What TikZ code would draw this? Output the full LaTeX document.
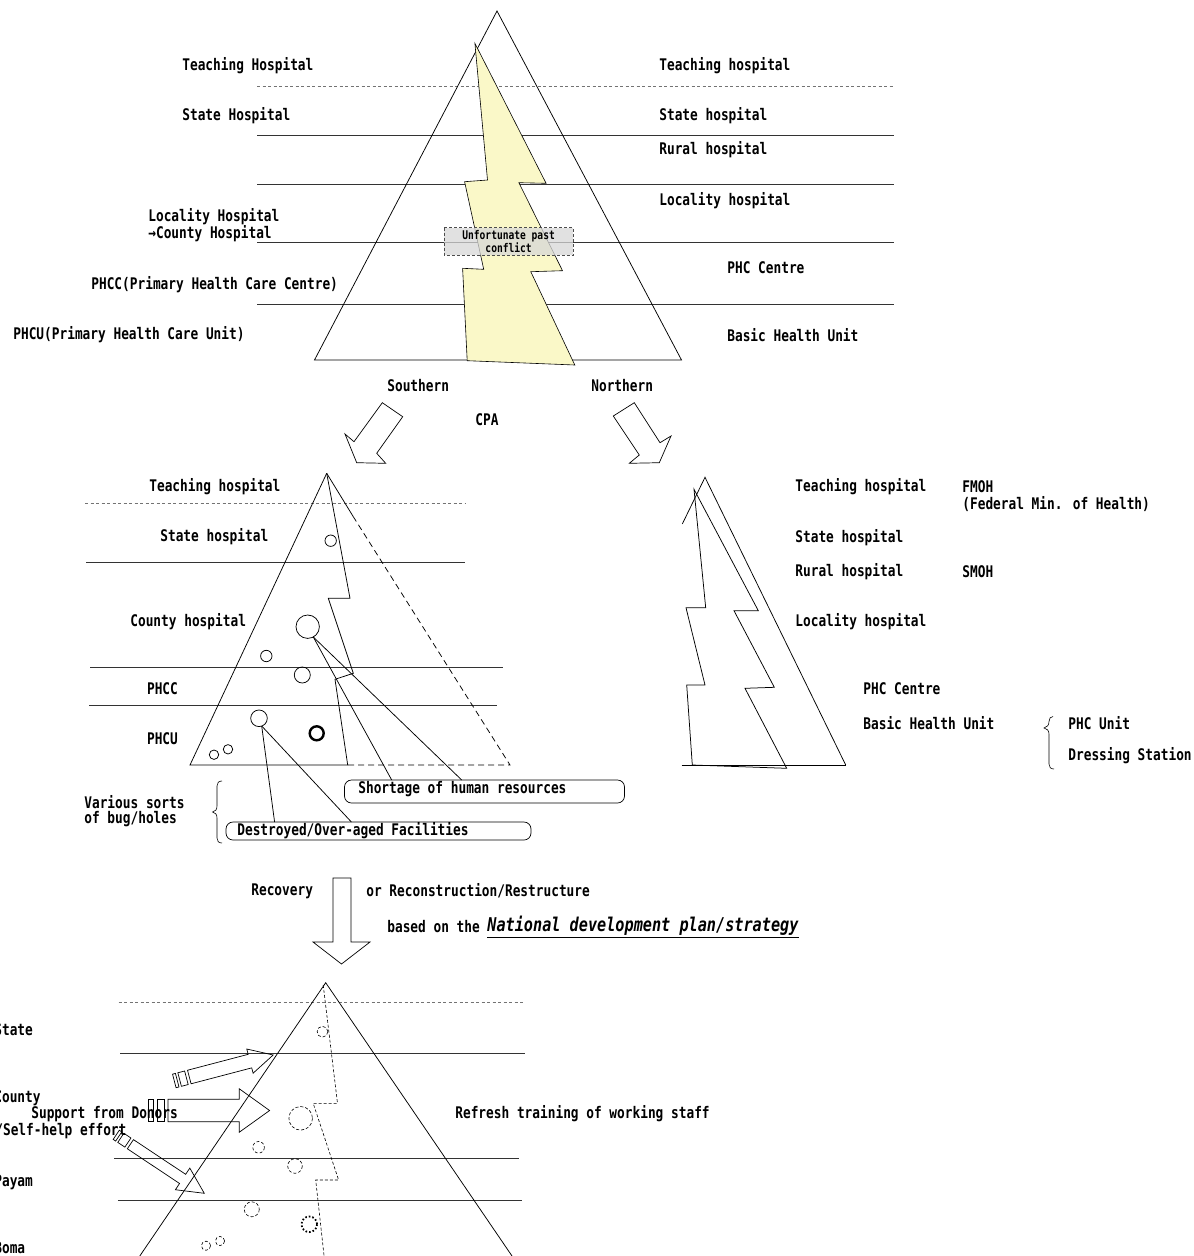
\documentclass[tikz,border=0pt]{standalone}
\usepackage{fontspec}
\newfontfamily\gfont[FakeStretch=0.8]{DejaVu Sans Mono}
\definecolor{boltyellow}{RGB}{250,248,200}
\definecolor{boxgray}{RGB}{215,215,215}
\begin{document}
\begin{tikzpicture}[x=1pt,y=-1pt, line width=0.75pt, line join=miter,
  lbl/.style={font=\gfont\bfseries\fontsize{16}{17}\selectfont, inner sep=0pt, anchor=west},
  slbl/.style={font=\gfont\bfseries\fontsize{12}{12}\selectfont, inner sep=0pt, align=center},
  hline/.style={draw=black!80, line width=0.7pt},
  hdash/.style={draw=black!55, line width=0.7pt, dash pattern=on 3pt off 2.5pt},
  ddash/.style={dash pattern=on 6pt off 4pt},
  sdash/.style={dash pattern=on 3pt off 2pt, line width=0.6pt},
  barrow/.style={draw, line width=0.7pt},
  capbox/.style={draw, rounded corners=7pt, line width=0.7pt}]

\useasboundingbox (0,0) rectangle (1194,1256);
\clip (0,0) rectangle (1194,1256);
\fill[white] (0,0) rectangle (1194,1256);

% ================= TOP PYRAMID =================
\draw[hdash] (257,86) -- (894,86);
\foreach \yy in {135,184,242,304} \draw[hline] (257,\yy) -- (894,\yy);
\draw (497,11) -- (314.5,360) -- (681.5,360) -- cycle;
\draw[fill=boltyellow, line width=0.6pt] (474.9,43.3) -- (546.1,183.3) -- (518.9,182.7) -- (562.5,270.7) -- (530.8,271.7) -- (574.8,365) -- (467.2,360.7) -- (462.6,268.3) -- (483.7,269.3) -- (464.6,181.7) -- (487.5,180) -- cycle;
\fill[boxgray, opacity=0.75] (444.3,227.7) rectangle (572.9,255.3);
\draw[sdash, black!70] (444.3,227.7) rectangle (572.9,255.3);
\node[slbl] (conflict) at (508.6,241.5) {Unfortunate past\\[-1pt]conflict};

\node[lbl] (tTHl) at (182,66) {Teaching Hospital};
\node[lbl] (tSHl) at (182,116) {State Hospital};
\node[lbl] (tLHl) at (148,217) {Locality Hospital};
\node[lbl] (tCHl) at (148,234) {→County Hospital};
\node[lbl] (tPHCCl) at (91,285) {PHCC(Primary Health Care Centre)};
\node[lbl] (tPHCUl) at (13,335) {PHCU(Primary Health Care Unit)};

\node[lbl] (tTHr) at (659,66) {Teaching hospital};
\node[lbl] (tSHr) at (659,116) {State hospital};
\node[lbl] (tRHr) at (659,150) {Rural hospital};
\node[lbl] (tLHr) at (659,201) {Locality hospital};
\node[lbl] (tPHCr) at (727,268) {PHC Centre};
\node[lbl] (tBHUr) at (727,335) {Basic Health Unit};

\node[lbl] (south) at (387,386) {Southern};
\node[lbl] (north) at (591,386) {Northern};
\node[lbl] (cpa) at (475,420) {CPA};

\draw[barrow] (382.3,402.7) -- (402.7,416.7) -- (376.7,453.3) -- (385.7,463.3) -- (356.7,462.7) -- (345,434) -- (354,441.7) -- cycle;
\draw[barrow] (613.3,416) -- (634.3,402.7) -- (660,442.7) -- (671,436) -- (659.3,462.7) -- (629.3,463.3) -- (639.3,455) -- cycle;

% ================= MIDDLE LEFT (SOUTHERN) =================
\draw[hdash] (85,503.3) -- (465,503.3);
\draw[hline] (86,562) -- (465,562);
\draw[hline] (90,667.7) -- (503,667.7);
\draw[hline] (89,705) -- (497,705);

\draw (326.7,473.3) -- (190,765) -- (348,765);
\draw[ddash] (348,765) -- (510,765) -- (353.3,516.7);
\draw (326.7,473.3) -- (353.3,516.7);
\draw (326.7,473.3) -- (350,598.3) -- (328.3,598.3) -- (353.3,673.3) -- (335,679.3) -- (347.7,765);

\draw (330.7,540.7) circle[radius=5.7];
\draw (307.7,626.7) circle[radius=11.7];
\draw (266.3,656) circle[radius=5.7];
\draw (302.3,675) circle[radius=8];
\draw (259,718.3) circle[radius=8.3];
\draw[line width=2.4pt] (316.7,733.3) circle[radius=7];
\draw (214,754.7) circle[radius=4.7];
\draw (228,749.3) circle[radius=4.7];

\node[lbl] (mTH) at (149,487) {Teaching hospital};
\node[lbl] (mSH) at (160,537) {State hospital};
\node[lbl] (mCH) at (130,622) {County hospital};
\node[lbl] (mPHCC) at (146.7,689) {PHCC};
\node[lbl] (mPHCU) at (146.7,739) {PHCU};

% callouts
\draw[capbox] (344.5,780) rectangle (624.5,803);
\draw[capbox] (226,822) rectangle (531,840);
\node[lbl] (short) at (358,789) {Shortage of human resources};
\node[lbl] (destr) at (237,831) {Destroyed/Over-aged Facilities};
\coordinate (cA) at (313.3,637);
\coordinate (cB) at (261.7,726);
\draw (cA) -- (391.7,780);
\draw (cA) -- (461.7,780);
\draw (cB) -- (274.6,822);
\draw (cB) -- (351.4,822);

\node[lbl] (var1) at (84,802) {Various sorts};
\node[lbl] (var2) at (84,819) {of bug/holes};
\draw[line width=0.6pt] (222,781) .. controls (218.5,781) and (217,783) .. (217,786) -- (217,806) .. controls (217,809.5) and (215.5,811.5) .. (212.5,812) .. controls (215.5,812.5) and (217,814.5) .. (217,818) -- (217,838) .. controls (217,841) and (218.5,843) .. (222,843);

% ================= MIDDLE RIGHT (NORTHERN) =================
\draw (682.3,524) -- (705,477.3) -- (845.7,765);
\draw (681.7,765) -- (845.7,765);
\draw (694,489.3) -- (705.7,607.7) -- (686,607.7) -- (705,685) -- (686.7,685) -- (692.3,765) -- (786.7,768.3) -- (745,688.3) -- (774.3,687.3) -- (734,610.7) -- (758.3,610.7) -- cycle;

\node[lbl] (nTH) at (795,487) {Teaching hospital};
\node[lbl] (nSH) at (795,538) {State hospital};
\node[lbl] (nRH) at (795,572) {Rural hospital};
\node[lbl] (nLH) at (795,622) {Locality hospital};
\node[lbl] (fmoh) at (962,487) {FMOH};
\node[lbl] (fmoh2) at (962,504.5) {(Federal Min. of Health)};
\node[lbl] (smoh) at (962,572) {SMOH};
\node[lbl] (nPHC) at (863,689) {PHC Centre};
\node[lbl] (nBHU) at (863,723) {Basic Health Unit};
\node[lbl] (pu) at (1068,723) {PHC Unit};
\node[lbl] (ds) at (1068,756) {Dressing Station};
\draw[line width=0.6pt] (1053,716.5) .. controls (1050.5,716.5) and (1049,718.5) .. (1049,721.5) .. controls (1049,725) and (1047,727.5) .. (1044,728) .. controls (1047,728.5) and (1049,730.5) .. (1049,734) -- (1049,764) .. controls (1049,767) and (1050.5,769) .. (1054,769);

% ================= RECOVERY ARROW =================
\draw[barrow] (333,878) -- (351,878) -- (351,942) -- (370,942) -- (341.5,964) -- (313,942) -- (333,942) -- cycle;
\node[lbl] (recov) at (251,891) {Recovery};
\node[lbl] (recon) at (366,891) {or Reconstruction/Restructure};
\node[lbl] (based) at (387,927) {based on the};
\node[lbl, font=\gfont\bfseries\itshape\fontsize{19}{20}\selectfont] (nplan) at (487,927) {\underline{National development plan/strategy}};

% ================= BOTTOM PYRAMID =================
\draw[hdash] (118.6,1002.7) -- (524.3,1002.7);
\draw[hline] (120,1053) -- (525,1053);
\draw[hline] (114.3,1158.3) -- (519,1158.3);
\draw[hline] (117.9,1200.7) -- (522,1200.7);
\draw (139.3,1256.7) -- (325.7,982.7) -- (512.5,1256.7);
\draw[sdash] (323.2,985) -- (337.5,1103.3) -- (313.2,1103.3) -- (338.6,1180) -- (315.7,1180) -- (324.3,1258);

\draw[sdash] (322.5,1031.7) circle[radius=5.4];
\draw[sdash] (300.7,1118.3) circle[radius=11.8];
\draw[sdash] (258.6,1147.3) circle[radius=5.8];
\draw[sdash] (295,1166) circle[radius=7.3];
\draw[sdash] (251.8,1209.3) circle[radius=7.5];
\draw[dash pattern=on 1.6pt off 2pt, line width=1.8pt] (309.3,1224.3) circle[radius=7.8];
\draw[sdash] (206,1245.7) circle[radius=4.6];
\draw[sdash] (220,1241) circle[radius=4.6];

% support arrows
\begin{scope}[shift={(189.3,1077)}, rotate=14.7]
  \draw[barrow] (0,-7) -- (62.7,-7) -- (62.7,-12.5) -- (86.7,0) -- (62.7,12.5) -- (62.7,7) -- (0,7) -- cycle;
  \draw[barrow] (-15.5,-7) rectangle (-12.5,7);
  \draw[barrow] (-10,-7) rectangle (-3,7);
\end{scope}
\begin{scope}[shift={(167.9,1110.5)}]
  \draw[barrow] (0,-11.2) -- (71.4,-11.2) -- (71.4,-21.7) -- (101.7,0) -- (71.4,21.7) -- (71.4,11.2) -- (0,11.2) -- cycle;
  \draw[barrow] (-19.7,-11.2) rectangle (-14.3,11.2);
  \draw[barrow] (-10.8,-11.2) rectangle (-3.6,11.2);
\end{scope}
\begin{scope}[shift={(130.4,1144.2)}, rotate=-33.6]
  \draw[barrow] (0,-5.5) -- (62.7,-5.5) -- (62.7,-13) -- (88.7,0) -- (62.7,13) -- (62.7,5.5) -- (0,5.5) -- cycle;
  \draw[barrow] (-17,-5.5) rectangle (-14,5.5);
  \draw[barrow] (-11.5,-5.5) rectangle (-3,5.5);
\end{scope}

\node[lbl] (bState) at (-6,1030) {State};
\node[lbl] (bCounty) at (-6,1098) {County};
\node[lbl] (bSupport) at (31,1114) {Support from Donors};
\node[lbl] (bSelf) at (-5,1131) {/Self-help effort};
\node[lbl] (bPayam) at (-6,1182) {Payam};
\node[lbl] (bBoma) at (-6,1248) {Boma};
\node[lbl] (bRefresh) at (455,1114) {Refresh training of working staff};

\end{tikzpicture}
\end{document}
